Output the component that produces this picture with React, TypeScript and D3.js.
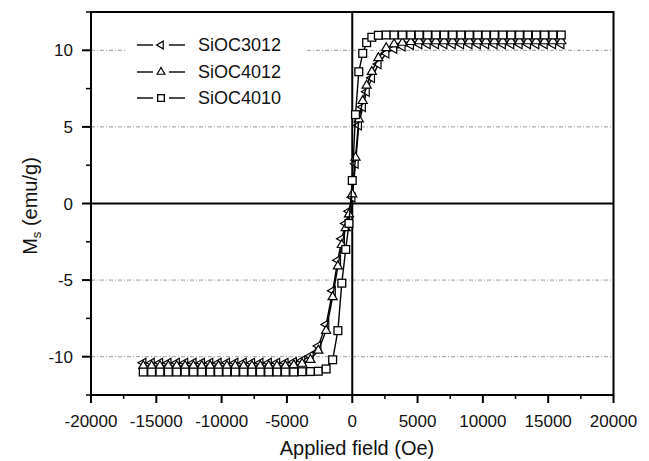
import React from 'react';
import * as d3 from 'd3';

const fieldOe = [
  -16000, -15360, -14720, -14080, -13440, -12800, -12160, -11520, -10880, -10240,
  -9600, -8960, -8320, -7680, -7040, -6400, -5760, -5120, -4480, -3840,
  -3200, -2600, -2000, -1500, -1100, -800, -500, -250, 0, 250,
  500, 800, 1100, 1500, 2000, 2600, 3200, 3840, 4480, 5120,
  5760, 6400, 7040, 7680, 8320, 8960, 9600, 10240, 10880, 11520,
  12160, 12800, 13440, 14080, 14720, 15360, 16000,
];

const msSiOC3012 = [
  -10.4, -10.4, -10.4, -10.4, -10.4, -10.4, -10.4, -10.4, -10.4, -10.4,
  -10.4, -10.4, -10.4, -10.4, -10.4, -10.4, -10.4, -10.4, -10.35, -10.25,
  -9.95, -9.3, -7.9, -5.7, -3.7, -2.3, -1.3, -0.5, 0.4, 2.6,
  5.1, 6.3, 7.3, 8.2, 9.1, 9.8, 10.1, 10.25, 10.35, 10.4,
  10.4, 10.4, 10.4, 10.4, 10.4, 10.4, 10.4, 10.4, 10.4, 10.4,
  10.4, 10.4, 10.4, 10.4, 10.4, 10.4, 10.4,
];

const msSiOC4012 = [
  -10.6, -10.6, -10.6, -10.6, -10.6, -10.6, -10.6, -10.6, -10.6, -10.6,
  -10.6, -10.6, -10.6, -10.6, -10.6, -10.6, -10.6, -10.6, -10.55, -10.45,
  -10.2, -9.6, -8.3, -6.1, -4.1, -2.7, -1.6, -0.7, 0.6, 3.0,
  5.5, 6.7, 7.7, 8.6, 9.5, 10.15, 10.4, 10.5, 10.55, 10.6,
  10.6, 10.6, 10.6, 10.6, 10.6, 10.6, 10.6, 10.6, 10.6, 10.6,
  10.6, 10.6, 10.6, 10.6, 10.6, 10.6, 10.6,
];

const msSiOC4010 = [
  -11.0, -11.0, -11.0, -11.0, -11.0, -11.0, -11.0, -11.0, -11.0, -11.0,
  -11.0, -11.0, -11.0, -11.0, -11.0, -11.0, -11.0, -11.0, -11.0, -10.98,
  -10.97, -10.95, -10.8, -10.2, -8.3, -5.2, -3.0, -1.3, 1.5, 5.8,
  8.6, 9.8, 10.5, 10.85, 10.98, 11.0, 11.0, 11.0, 11.0, 11.0,
  11.0, 11.0, 11.0, 11.0, 11.0, 11.0, 11.0, 11.0, 11.0, 11.0,
  11.0, 11.0, 11.0, 11.0, 11.0, 11.0, 11.0,
];

const seriesNames = ['SiOC3012', 'SiOC4012', 'SiOC4010'];
const seriesValues = [msSiOC3012, msSiOC4012, msSiOC4010];
const seriesMarkers = ['left', 'up', 'square'];

const xTicks = [-20000, -15000, -10000, -5000, 0, 5000, 10000, 15000, 20000];
const xMinorTicks = [-17500, -12500, -7500, -2500, 2500, 7500, 12500, 17500];
const yTicks = [-10, -5, 0, 5, 10];
const yMinorTicks = [-12.5, -7.5, -2.5, 2.5, 7.5, 12.5];
const yGrid = [-10, -5, 5, 10];

const FONT = 'Liberation Sans, Arial, Helvetica, sans-serif';

function Marker({ kind, cx, cy, s = 1 }: { kind: string; cx: number; cy: number; s?: number }) {
  if (kind === 'square') {
    const h = 3.9 * s;
    return <rect x={cx - h} y={cy - h} width={2 * h} height={2 * h} fill="#fff" stroke="#000" strokeWidth={1.3} />;
  }
  const tri = d3.symbol(d3.symbolTriangle, 36 * s * s)() as string;
  const rot = kind === 'left' ? -90 : 0;
  return (
    <path d={tri} transform={`translate(${cx},${cy}) rotate(${rot})`} fill="#fff" stroke="#000" strokeWidth={1.2} />
  );
}

export default function App() {
  const x = d3.scaleLinear().domain([-20000, 20000]).range([91, 613.5]);
  const y = d3.scaleLinear().domain([-12.5, 12.5]).range([395, 12]);
  const [x0, x1] = x.range();
  const [y0, y1] = y.range();

  const line = d3
    .line<[number, number]>()
    .x((d) => x(d[0]))
    .y((d) => y(d[1]));

  const legendRows = [45, 72, 98];

  return (
    <svg
      width={649}
      height={461}
      style={{ position: 'absolute', left: 0, top: 0, background: '#fff' }}
      fontFamily={FONT}
    >
      <rect x={0} y={0} width={649} height={461} fill="#fff" />
      {/* grid */}
      {yGrid.map((v) => (
        <line key={'g' + v} x1={x0} x2={x1} y1={y(v)} y2={y(v)} stroke="#9a9a9a" strokeWidth={1} strokeDasharray="4 2 1 2" />
      ))}
      {/* legend background */}
      <rect x={127} y={32} width={180} height={80} fill="#fff" />
      {/* zero lines */}
      <line x1={x0} x2={x1} y1={y(0)} y2={y(0)} stroke="#000" strokeWidth={2} />
      <line x1={x(0)} x2={x(0)} y1={y1} y2={y0} stroke="#000" strokeWidth={2} />
      {/* series */}
      {seriesValues.map((vals, si) => {
        const pts = fieldOe.map((h, i) => [h, vals[i]] as [number, number]);
        return (
          <g key={seriesNames[si]}>
            <path d={line(pts) as string} fill="none" stroke="#000" strokeWidth={1.4} />
            {pts.map((p, i) => (
              <Marker key={i} kind={seriesMarkers[si]} cx={x(p[0])} cy={y(p[1])} />
            ))}
          </g>
        );
      })}
      {/* frame */}
      <rect x={x0} y={y1} width={x1 - x0} height={y0 - y1} fill="none" stroke="#000" strokeWidth={2} />
      {/* x ticks */}
      {xTicks.map((t) => (
        <g key={'xt' + t}>
          <line x1={x(t)} x2={x(t)} y1={y0} y2={y0 + 8} stroke="#000" strokeWidth={2} />
          <text x={x(t)} y={427} textAnchor="middle" fontSize={17} fill="#111">
            {t}
          </text>
        </g>
      ))}
      {xMinorTicks.map((t) => (
        <line key={'xm' + t} x1={x(t)} x2={x(t)} y1={y0} y2={y0 + 4} stroke="#000" strokeWidth={1.5} />
      ))}
      {/* y ticks */}
      {yTicks.map((t) => (
        <g key={'yt' + t}>
          <line x1={x0 - 9} x2={x0} y1={y(t)} y2={y(t)} stroke="#000" strokeWidth={2} />
          <text x={73} y={y(t)} dy="0.36em" textAnchor="end" fontSize={17} fill="#111">
            {t}
          </text>
        </g>
      ))}
      {yMinorTicks.map((t) => (
        <line key={'ym' + t} x1={x0 - 5} x2={x0} y1={y(t)} y2={y(t)} stroke="#000" strokeWidth={1.5} />
      ))}
      {/* axis titles */}
      <text x={357} y={455} textAnchor="middle" fontSize={20} fill="#111">
        Applied field (Oe)
      </text>
      <text transform="translate(37,206) rotate(-90)" textAnchor="middle" fontSize={20} fill="#111">
        M<tspan fontSize={13} dy={4}>s</tspan>
        <tspan dy={-4}> (emu/g)</tspan>
      </text>
      {/* legend */}
      {seriesNames.map((name, i) => (
        <g key={'lg' + name}>
          <line x1={137} x2={153} y1={legendRows[i]} y2={legendRows[i]} stroke="#000" strokeWidth={1.4} />
          <line x1={169} x2={185} y1={legendRows[i]} y2={legendRows[i]} stroke="#000" strokeWidth={1.4} />
          <Marker kind={seriesMarkers[i]} cx={161} cy={legendRows[i]} s={0.85} />
          <text x={198} y={legendRows[i]} dy="0.36em" fontSize={18} fill="#111">
            {name}
          </text>
        </g>
      ))}
    </svg>
  );
}
